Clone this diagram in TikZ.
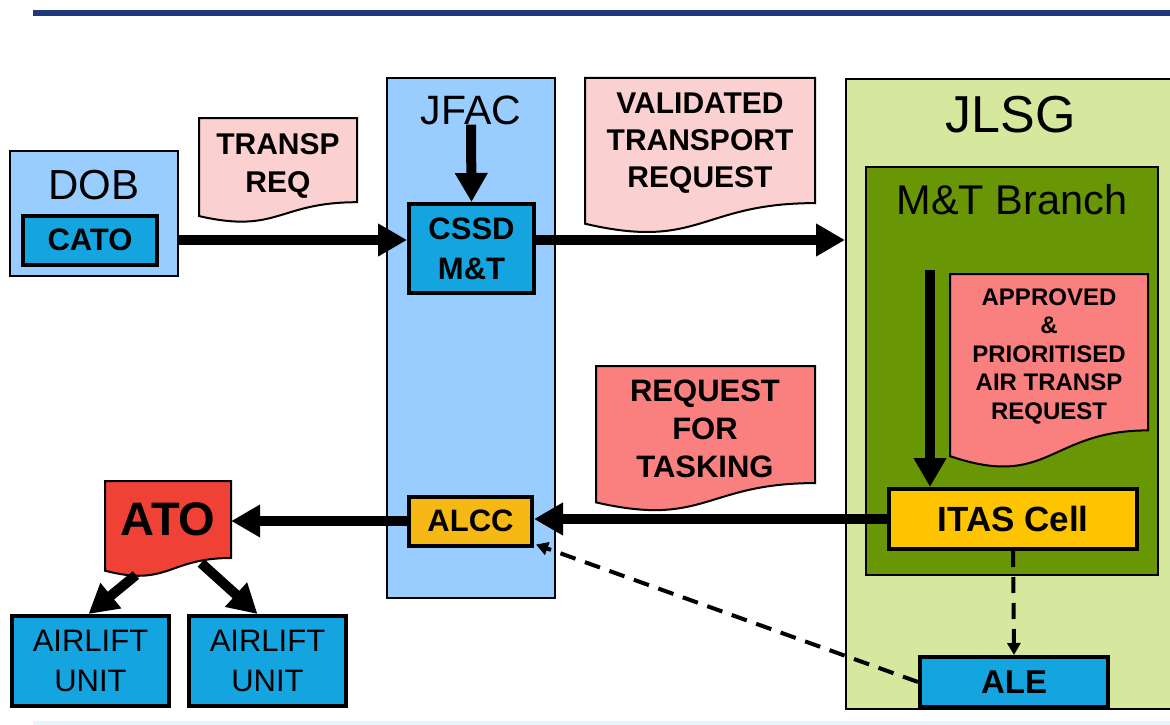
\documentclass[tikz,border=0pt]{standalone}
\usepackage{fontspec}
\setmainfont{Liberation Sans}
\usetikzlibrary{arrows.meta,calc}
\definecolor{lblue}{RGB}{153,204,255}
\definecolor{bblue}{RGB}{20,165,225}
\definecolor{lpink}{RGB}{251,208,208}
\definecolor{salmon}{RGB}{250,128,128}
\definecolor{atored}{RGB}{240,65,55}
\definecolor{itasgold}{RGB}{255,196,0}
\definecolor{alccgold}{RGB}{246,184,20}
\definecolor{jlsggreen}{RGB}{214,232,158}
\definecolor{mtgreen}{RGB}{104,150,5}
\definecolor{navy}{RGB}{30,55,125}
\definecolor{faintcyan}{RGB}{228,246,250}
\newcommand\myfs[2]{\fontsize{#1}{#2}\selectfont}
\newcommand\docshape[5]{%
  \pgfmathsetmacro\dsA{#2+0.802*(#4-#2)}%
  \pgfmathsetmacro\dsB{#2+1.107*(#4-#2)}%
  \pgfmathsetmacro\dsC{#2+0.934*(#4-#2)}%
  \pgfmathsetmacro\dsM{(#1+#3)/2}%
  \filldraw[docline, fill=#5] (#1,#2) -- (#3,#2) -- (#3,\dsA) .. controls (\dsM,\dsA) and (\dsM,\dsB) .. (#1,\dsC) -- cycle;}
\begin{document}
\begin{tikzpicture}[x=1pt,y=-1pt,
  box/.style={draw=black, line width=2pt, inner sep=0pt},
  inbox/.style={draw=black, line width=4pt, inner sep=0pt, align=center},
  docline/.style={draw=black, line width=2pt},
  doctxt/.style={inner sep=0pt, align=center},
  bigarrow/.style={line width=10pt, -{Triangle[length=29pt,width=31pt]}},
  dasharrow/.style={line width=4pt, dash pattern=on 16pt off 10pt, -{Triangle[length=12pt,width=13pt]}},
  lbl/.style={inner sep=0pt, text=black}]
\clip (0,0) rectangle (1170,725);
\fill[white] (0,0) rectangle (1170,725);
\fill[navy] (33,10) rectangle (1170,16);
\fill[faintcyan] (33,721) rectangle (1170,725);

% containers
\node[box, fill=lblue, minimum width=168pt, minimum height=125pt] (dob) at (94,213.5) {};
\node[lbl, font=\myfs{42}{48}] (doblabel) at (94,185) {DOB};
\node[inbox, fill=bblue, minimum width=134pt, minimum height=49pt, font=\bfseries\myfs{31}{34}] (cato) at (90,240) {CATO};

\node[box, fill=lblue, minimum width=168pt, minimum height=520pt] (jfac) at (471,338) {};
\node[lbl, font=\myfs{41}{46}] (jfaclabel) at (471,110) {JFAC};
\node[inbox, fill=bblue, minimum width=125pt, minimum height=89pt, font=\bfseries\myfs{31}{40}] (cssd) at (471.5,248.5) {CSSD\\M\&T};
\node[inbox, fill=alccgold, minimum width=123pt, minimum height=49pt, font=\bfseries\myfs{31}{34}] (alcc) at (470.5,521) {ALCC};

\node[box, fill=jlsggreen, anchor=north west, minimum width=340pt, minimum height=630pt] (jlsg) at (845,78) {};
\node[lbl, font=\myfs{52}{58}] (jlsglabel) at (1011,115) {JLSG};
\node[box, fill=mtgreen, minimum width=292pt, minimum height=408pt] (mtb) at (1012,371) {};
\node[lbl, font=\myfs{41.5}{46}] (mtblabel) at (1012,200) {M\&T Branch};

% documents
\docshape{199}{118}{357}{223}{lpink}
\node[doctxt, minimum width=158pt, font=\bfseries\myfs{30}{38}] (transp) at (278,166) {TRANSP\\REQ};
\docshape{585}{78}{815}{234}{lpink}
\node[doctxt, minimum width=230pt, font=\bfseries\myfs{30}{37}] (valid) at (700,143) {VALIDATED\\TRANSPORT\\REQUEST};
\docshape{950}{274}{1148}{469}{salmon}
\node[doctxt, minimum width=198pt, font=\bfseries\myfs{24}{28.5}] (appr) at (1049,356) {APPROVED\\\&\\PRIORITISED\\AIR TRANSP\\REQUEST};
\docshape{596}{366}{815}{512}{salmon}
\node[doctxt, minimum width=219pt, font=\bfseries\myfs{31}{38}] (rft) at (705,429) {REQUEST\\FOR\\TASKING};
\docshape{105}{481}{231}{577}{atored}
\node[doctxt, minimum width=126pt, font=\bfseries\myfs{47}{52}] (ato) at (168,519) {ATO};

\node[inbox, fill=itasgold, minimum width=248pt, minimum height=60pt, font=\bfseries\myfs{35}{40}] (itas) at (1013,519) {ITAS Cell};
\node[inbox, fill=bblue, minimum width=188pt, minimum height=50pt, font=\bfseries\myfs{33}{36}] (ale) at (1014,682) {ALE};
\node[inbox, fill=bblue, minimum width=157pt, minimum height=90pt, font=\myfs{31}{40}] (unit1) at (90.5,661) {AIRLIFT\\UNIT};
\node[inbox, fill=bblue, minimum width=157pt, minimum height=90pt, font=\myfs{31}{40}] (unit2) at (267.5,661) {AIRLIFT\\UNIT};

% connectors
\coordinate (mtstart) at (930,270);
\coordinate (atoA) at (136,575);
\coordinate (atoB) at (201,563);
\draw[bigarrow] (dob.east |- cato.east) -- (cssd.west |- cato.east);
\draw[bigarrow] (cssd.east |- cato.east) -- (jlsg.west |- cato.east);
\draw[bigarrow] (jfaclabel.south) -- (cssd.north);
\draw[bigarrow] (mtstart) -- (mtstart |- itas.north);
\draw[bigarrow] (itas.west) -- (alcc.east |- itas.west);
\draw[bigarrow] (alcc.west) -- (ato.east |- alcc.west);
\draw[bigarrow] (atoA) -- ($(unit1.north)+(-2,0)$);
\draw[bigarrow] (atoB) -- ($(unit2.north)+(-10,0)$);
\draw[dasharrow] (itas.south) -- (ale.north);
\draw[dasharrow] (ale.west) -- ($(alcc.south east)+(2,-3)$);
\end{tikzpicture}
\end{document}
